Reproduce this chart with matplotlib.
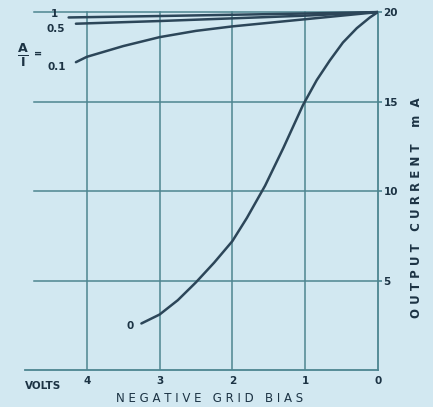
import numpy as np
import matplotlib
matplotlib.use("Agg")
import matplotlib.pyplot as plt

# curves of output current (mA) vs negative grid bias (volts), one per ratio
bias_0 = [3.25, 3.0, 2.75, 2.5, 2.25, 2.0, 1.8, 1.55, 1.3, 1.03, 0.84, 0.66,
          0.48, 0.29, 0.11, 0.0]
current_0 = [2.6, 3.1, 3.9, 4.9, 6.0, 7.2, 8.5, 10.3, 12.4, 14.8, 16.2, 17.3,
             18.3, 19.1, 19.7, 20.0]

bias_01 = [4.15, 4.0, 3.5, 3.0, 2.5, 2.0, 1.5, 1.0, 0.5, 0.0]
current_01 = [17.2, 17.5, 18.1, 18.6, 18.95, 19.2, 19.4, 19.6, 19.8, 20.0]

bias_05 = [4.15, 3.0, 2.0, 1.0, 0.0]
current_05 = [19.35, 19.5, 19.65, 19.8, 20.0]

bias_1 = [4.25, 3.0, 2.0, 1.0, 0.0]
current_1 = [19.7, 19.78, 19.85, 19.92, 20.0]

curve_labels = ["1", "0.5", "0.1", "0"]
x_ticks = [4, 3, 2, 1, 0]
y_ticks = [5, 10, 15, 20]

bg = "#d2e8f1"
ink = "#2c4659"
grid_col = "#4d8590"
txt = "#1c3344"

fig = plt.figure(figsize=(4.33, 4.07), dpi=100, facecolor=bg)
ax = fig.add_axes([0.0577, 0.0909, 0.815, 0.897])
ax.set_facecolor(bg)
ax.set_xlim(4.85, 0)
ax.set_ylim(0, 20.4)

# grid
for x in x_ticks[:-1]:
    ax.plot([x, x], [0, 20], color=grid_col, lw=1.1, zorder=1)
for y in y_ticks:
    ax.plot([4.72, 0], [y, y], color=grid_col, lw=1.1, zorder=1)

for s in ["top", "left"]:
    ax.spines[s].set_visible(False)
ax.spines["bottom"].set_color(grid_col)
ax.spines["bottom"].set_linewidth(1.3)
ax.spines["right"].set_color(grid_col)
ax.spines["right"].set_linewidth(1.3)
ax.spines["right"].set_bounds(0, 20)

# curves
kw = dict(color=ink, lw=1.8, solid_capstyle="round", solid_joinstyle="round",
          zorder=3)
ax.plot(bias_1, current_1, **kw)
ax.plot(bias_05, current_05, **kw)
ax.plot(bias_01, current_01, **kw)
ax.plot(bias_0, current_0, **kw)

fkw = dict(color=txt, fontsize=7.5, fontweight="bold", family="DejaVu Sans")
ax.text(4.45, 19.9, curve_labels[0], ha="center", va="center", **fkw)
ax.text(4.3, 19.05, curve_labels[1], ha="right", va="center", **fkw)
ax.text(4.28, 16.95, curve_labels[2], ha="right", va="center", **fkw)
ax.text(3.36, 2.45, curve_labels[3], ha="right", va="center", **fkw)

# ratio label at left
fig.text(0.052, 0.865, r"$\mathbf{\frac{A}{I}}$", ha="center", va="center",
         color=txt, fontsize=13)
fig.text(0.087, 0.868, "=", ha="center", va="center", color=txt, fontsize=7,
         fontweight="bold")

# ticks
ax.set_xticks(x_ticks)
ax.set_xticklabels([str(v) for v in x_ticks])
ax.yaxis.tick_right()
ax.set_yticks(y_ticks)
ax.set_yticklabels([str(v) for v in y_ticks])
ax.tick_params(axis="x", length=0, pad=4, labelsize=7.5, labelcolor=txt)
ax.tick_params(axis="y", length=3, width=1.2, color=grid_col, pad=1,
               labelsize=7.5, labelcolor=txt)
for lab in ax.get_xticklabels() + ax.get_yticklabels():
    lab.set_fontweight("bold")

ax.text(4.85, -0.6, "VOLTS", ha="left", va="top", **fkw)

fig.text(0.485, 0.022, "N E G A T I V E   G R I D   B I A S", ha="center",
         va="center", color=txt, fontsize=8.5)
fig.text(0.963, 0.49, "O U T P U T   C U R R E N T    m  A", ha="center",
         va="center", rotation=90, color=txt, fontsize=8.5, fontweight="bold")

fig.savefig("out.png", dpi=100, facecolor=bg)
